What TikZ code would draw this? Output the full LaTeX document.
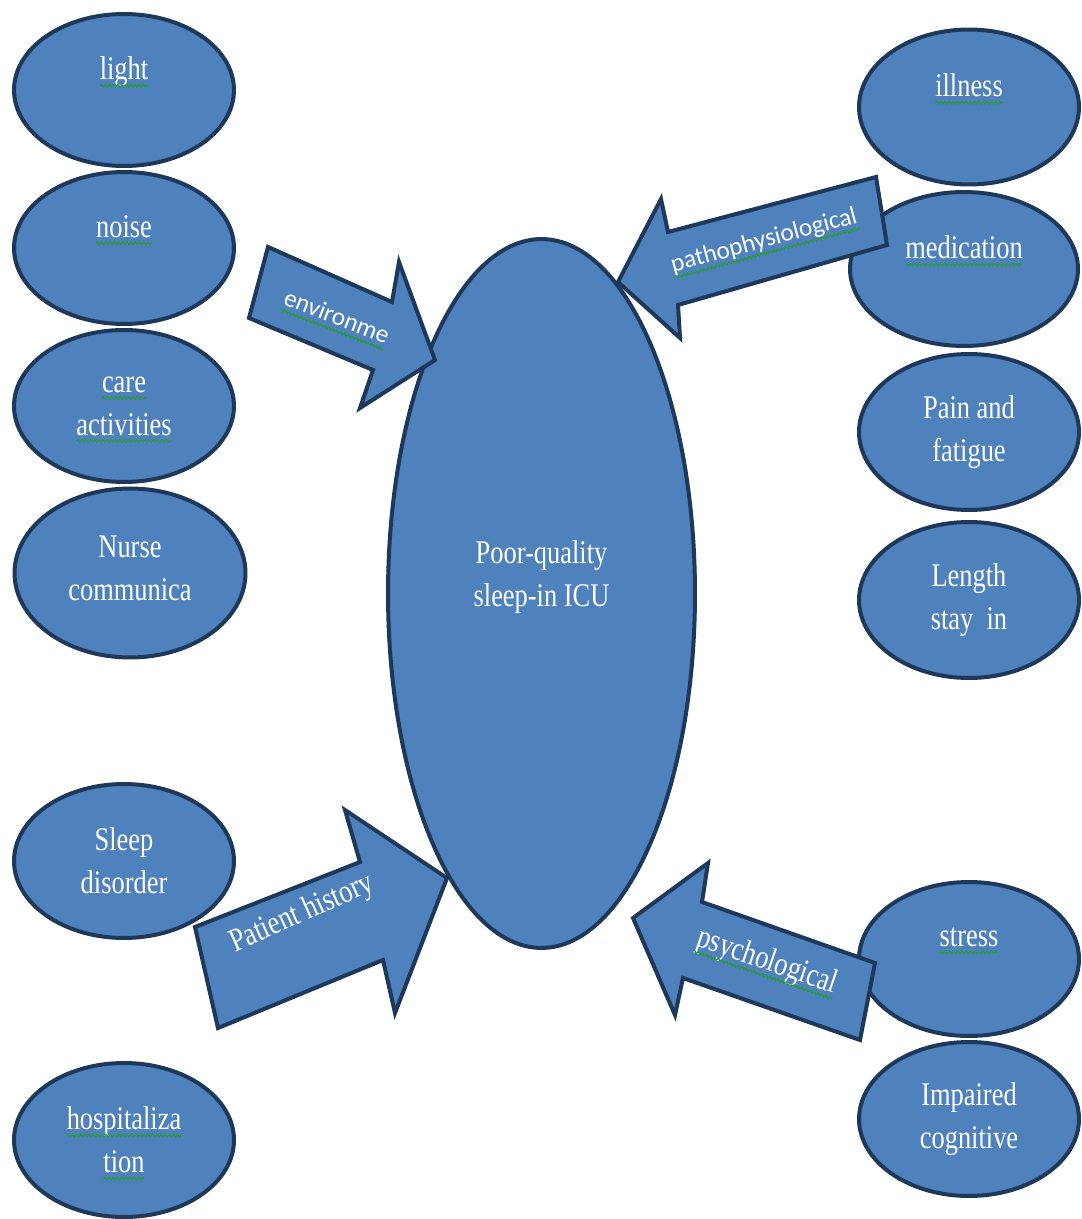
\documentclass[tikz,border=0pt]{standalone}
\usepackage{fontspec}
\setmainfont{Liberation Serif}[FakeStretch=0.8]
\newfontfamily\arrowsans{Carlito}
\usetikzlibrary{shapes.geometric, decorations.pathmorphing}
\definecolor{ovalblue}{HTML}{4F81BD}
\definecolor{ovalline}{HTML}{1D3858}
\definecolor{spellgreen}{HTML}{2A9A3A}
\tikzset{squiggle/.style={overlay, draw=spellgreen, fill=none, line width=0.65pt, decorate, decoration={snake, amplitude=0.7pt, segment length=2.4pt}}}
% wavy spell-check mark under a word
\newcommand\sq[1]{\tikz[baseline=(w.base)]{\node[rectangle, draw=none, fill=none, inner sep=0pt, outer sep=0pt, minimum width=0pt, minimum height=0pt] (w) {#1};
  \draw[squiggle] ([yshift=-3.3pt]w.base west) -- ([yshift=-3.3pt]w.base east);}}

\begin{document}
\begin{tikzpicture}[
  x=0.02cm, y=-0.02cm,
  oval/.style={ellipse, draw=ovalline, fill=ovalblue, line width=0.08cm, inner sep=0pt, minimum width=4.4cm, minimum height=3.08cm, text=white, align=center, font=\fontsize{18.8}{24.5}\selectfont},
  ovaltext/.style={text=white, align=center, font=\fontsize{18.8}{24.5}\selectfont},
  blockarrow/.style={draw=ovalline, fill=ovalblue, line width=0.08cm},
  sanslabel/.style={text=white, font=\arrowsans\fontsize{14.4}{17}\selectfont},
  seriflabel/.style={text=white, font=\fontsize{18.8}{24.5}\selectfont}
]
  \useasboundingbox (0,0) rectangle (1081,1219);

  % Left column
  \node[oval, minimum height=3.04cm] (light) at (124,90) {\sq{light}\\\mbox{}};
  \node[oval, minimum height=3.04cm] (noise) at (124,248) {\sq{noise}\\\mbox{}};
  \node[oval, minimum height=3.04cm] (care) at (124,406) {\sq{care}\\\sq{activities}};
  \node[oval, minimum width=4.62cm, minimum height=3.38cm] (nurse) at (130,573) {};
  \node[ovaltext] (nursetext) at ([yshift=0.1cm]nurse.center) {Nurse\\communica};
  \node[oval] (sleep) at (124,861) {Sleep\\disorder};
  \node[oval] (hosp) at (124,1140) {\sq{hospitaliza}\\\sq{tion}};

  % Right column
  \node[oval, minimum height=3.1cm] (illness) at (969,107) {\sq{illness}\\\mbox{}};
  \node[oval, minimum width=4.56cm] (medication) at (964,269) {\sq{medication}\\\mbox{}};
  \node[oval, minimum height=3.12cm] (pain) at (969,432) {Pain and\\fatigue};
  \node[oval, minimum height=3.12cm] (length) at (969,600) {Length\\stay\ \ in};
  \node[oval] (stress) at (969,959) {\sq{stress}\\\mbox{}};
  \node[oval] (impaired) at (969,1119) {Impaired\\cognitive};

  % Centre
  \node[oval, minimum width=6.14cm, minimum height=14.18cm] (icu) at (541.5,593.5) {};
  \node[ovaltext] (icutext) at ([yshift=0.32cm]icu.center) {Poor-quality\\sleep-in ICU};

  % Block arrows
  \draw[blockarrow] (268,247) -- (392,302) -- (399,262) -- (435,360) -- (360,408) -- (373,370) -- (249,318) -- cycle;
  \node[sanslabel, rotate=-21] (envlabel) at (337,316) {\sq{environme}};

  \draw[blockarrow] (876,177) -- (887,245) -- (678,305) -- (680,338) -- (618,282) -- (661,199) -- (668,232) -- cycle;
  \node[sanslabel, rotate=15] (pathlabel) at (764,241) {\sq{pathophysiological}};

  \draw[blockarrow] (195,927) -- (360,862) -- (345,810) -- (447,878) -- (395,1013) -- (383,960) -- (218,1028) -- cycle;
  \node[seriflabel, rotate=24] (histlabel) at (302,914) {Patient history};

  \draw[blockarrow] (875,963) -- (860,1040) -- (683,978) -- (675,1015) -- (633,918) -- (708,863) -- (702,902) -- cycle;
  \node[seriflabel, rotate=-19] (psychlabel) at (767,962) {\sq{psychological}};
\end{tikzpicture}
\end{document}
